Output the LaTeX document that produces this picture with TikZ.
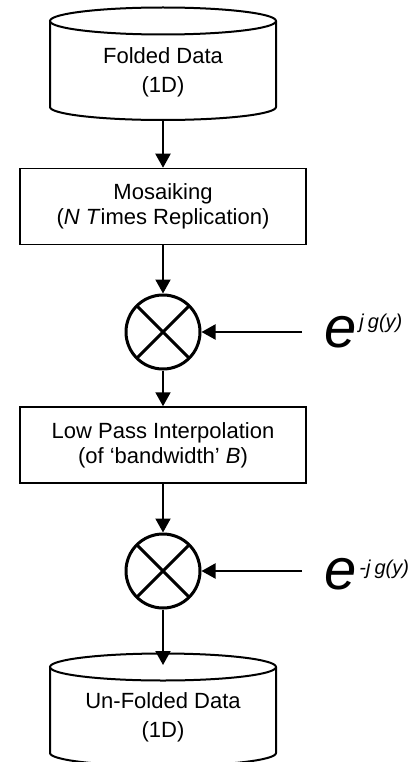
\documentclass[tikz,border=0pt]{standalone}
\usepackage{fontspec}
\setmainfont{Liberation Sans}
\usetikzlibrary{arrows.meta}
% size of the exponent text next to the phase factors
\newcommand{\expofont}{\fontsize{20}{22}\selectfont}
\begin{document}
\begin{tikzpicture}[x=1pt,y=-1pt,
  box/.style={draw, line width=1.5pt, minimum width=286pt, minimum height=76pt,
    inner sep=0pt, align=center, font=\fontsize{22}{25}\selectfont},
  cyltext/.style={align=center, inner sep=0pt, font=\fontsize{22}{29}\selectfont},
  mult/.style={draw, circle, line width=3pt, minimum size=74pt, inner sep=0pt},
  flow/.style={line width=2pt, -{Triangle[width=15pt,length=14pt]}},
  cross/.style={line width=3pt},
  cylline/.style={line width=2pt},
  phase/.style={anchor=base west, inner sep=0pt, font=\fontsize{58}{60}\selectfont\itshape},
]
\useasboundingbox (0,0) rectangle (416,762);

% source data store
\draw[cylline] (50,21) -- (50,107)
  arc[start angle=180, end angle=360, x radius=113pt, y radius=13pt] -- (276,21);
\draw[cylline] (163,21) ellipse [x radius=113pt, y radius=13.5pt];
\node[cyltext] (src) at (163,72) {Folded Data\\(1D)};
\coordinate (srcbot) at (163,120);

% processing chain
\node[box] (mos) at (163,206.5) {Mosaiking\\(\textit{N T}imes Replication)};
\node[mult] (m1) at (163,332) {};
\draw[cross] (m1.center) ++(45:37pt) -- ++(225:74pt);
\draw[cross] (m1.center) ++(135:37pt) -- ++(315:74pt);

\node[box] (lpf) at (163,445) {Low Pass Interpolation\\(of ‘bandwidth’ \textit{B})};
\node[mult] (m2) at (163,571) {};
\draw[cross] (m2.center) ++(45:37pt) -- ++(225:74pt);
\draw[cross] (m2.center) ++(135:37pt) -- ++(315:74pt);

% destination data store
\draw[cylline] (50,667) -- (50,753)
  arc[start angle=180, end angle=360, x radius=113pt, y radius=13pt] -- (276,667);
\draw[cylline] (163,667) ellipse [x radius=113pt, y radius=13.5pt];
\node[cyltext] (dst) at (163,717) {Un-Folded Data\\(1D)};
\coordinate (dsttop) at (163,665);

% phase factors
\coordinate (ph1) at (302,332);
\coordinate (ph2) at (302,571);
\node[phase] (e1) at (324,347) {e\hspace{3pt}\raisebox{19pt}{\expofont j\hspace{4pt}g(y)}};
\node[phase] (e2) at (324,589) {e\hspace{3pt}\raisebox{15pt}{\expofont -j\hspace{4pt}g(y)}};

% connectors
\draw[flow] (srcbot) -- (mos);
\draw[flow] (mos) -- (m1);
\draw[flow] (m1) -- (lpf);
\draw[flow] (lpf) -- (m2);
\draw[flow] (m2) -- (dsttop);
\draw[flow] (ph1) -- (m1);
\draw[flow] (ph2) -- (m2);
\end{tikzpicture}
\end{document}
